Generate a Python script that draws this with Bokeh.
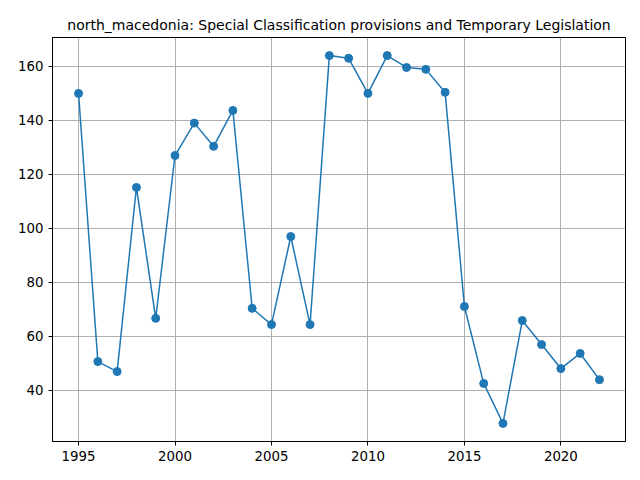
from bokeh.plotting import figure
from bokeh.models import Range1d, SingleIntervalTicker
from bokeh.embed import file_html
from bokeh.resources import INLINE

years = list(range(1995, 2023))
values = [150, 50.7, 47, 115.2, 66.7, 127, 139, 130.4, 143.7, 70.4, 64.4, 97, 64.4,
          164, 163, 150, 164, 159.6, 158.9, 150.4, 71.1, 42.6, 27.8, 65.9, 57, 48.1,
          53.7, 44]

p = figure(width=640, height=480, output_backend="svg", toolbar_location=None,
           x_range=Range1d(1993.65, 2023.35), y_range=Range1d(21.1, 170.7),
           min_border_left=52, min_border_right=15, min_border_top=37, min_border_bottom=39,
           title="north_macedonia: Special Classification provisions and Temporary Legislation")
p.title.align = "center"
p.title.text_font = "DejaVu Sans"
p.title.text_font_size = "10.5pt"
p.title.text_font_style = "normal"
p.title.text_color = "black"

p.line(years, values, line_color="#1f77b4", line_width=1.5)
p.scatter(years, values, size=8, fill_color="#1f77b4", line_color="#1f77b4")

p.xaxis.ticker = SingleIntervalTicker(interval=5)
p.yaxis.ticker = SingleIntervalTicker(interval=20)
for ax in (p.xaxis, p.yaxis):
    ax.major_label_text_font = "DejaVu Sans"
    ax.major_label_text_font_size = "10pt"
    ax.major_label_text_color = "black"
    ax.minor_tick_line_color = None
    ax.axis_line_color = "black"
    ax.major_tick_line_color = "black"
    ax.major_tick_out = 4
    ax.major_tick_in = 0
p.grid.grid_line_color = "#b0b0b0"
p.grid.grid_line_alpha = 1.0
p.outline_line_color = "black"
p.outline_line_alpha = 1.0

open("out.html", "w").write(file_html(p, INLINE))
